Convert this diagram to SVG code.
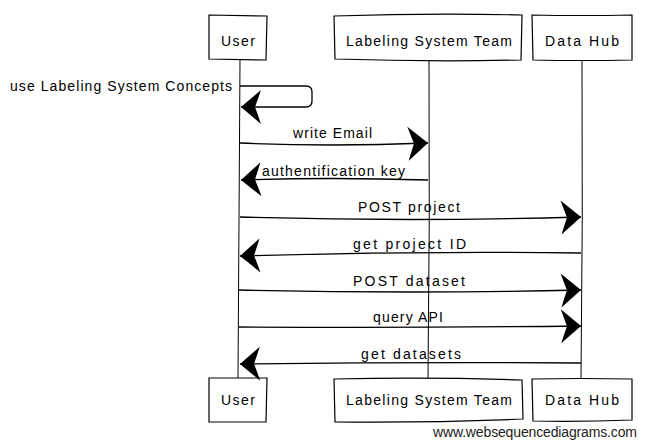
<svg xmlns="http://www.w3.org/2000/svg" width="646" height="447" viewBox="0 0 646 447">
<style>
.box{fill:#fff;stroke:#000;stroke-width:1.2}
.life{fill:none;stroke:#000;stroke-width:1}
.msg{fill:none;stroke:#000;stroke-width:1.3}
.t{font-family:"Liberation Sans",Arial,sans-serif;font-size:14px;fill:#000}
.wm{font-family:"Liberation Sans",Arial,sans-serif;font-size:14px;fill:#222}
</style>
<defs>
<marker id="ah" markerUnits="userSpaceOnUse" viewBox="-24 -22 26 44" refX="0" refY="0" markerWidth="26" markerHeight="44" orient="auto" overflow="visible">
<path d="M0,0 L-20,-17 Q-17,-8 -14,0 Q-17,8 -20,17 Z" fill="#000"/>
</marker>
</defs>
<rect width="646" height="447" fill="#fff"/>
<g id="lifelines">
<path class="life" d="M240,60 Q239,220 238,378"/>
<path class="life" d="M429,60 Q430,220 428,378"/>
<path class="life" d="M582,60 Q583,220 581,378"/>
</g>
<g id="node-user-top">
<path class="box" d="M209,15 L267,16 L266,60 L209,59 Z"/>
<text class="t" x="238" y="46" text-anchor="middle" textLength="34">User</text>
</g>
<g id="node-lst-top">
<path class="box" d="M334,16 Q430,13 522,15 L521,60 Q430,62 335,59 Z"/>
<text class="t" x="429" y="46" text-anchor="middle" textLength="166">Labeling System Team</text>
</g>
<g id="node-dh-top">
<path class="box" d="M532,15 Q580,16 632,15 L632,60 Q580,61 533,60 Z"/>
<text class="t" x="582" y="46" text-anchor="middle" textLength="74">Data Hub</text>
</g>
<g id="node-user-bottom">
<path class="box" d="M209,378 L267,378 L266,422 L209,422 Z"/>
<text class="t" x="238" y="405" text-anchor="middle" textLength="34">User</text>
</g>
<g id="node-lst-bottom">
<path class="box" d="M334,379 Q430,377 522,380 L523,419 Q430,423 335,422 Z"/>
<text class="t" x="429" y="405" text-anchor="middle" textLength="166">Labeling System Team</text>
</g>
<g id="node-dh-bottom">
<path class="box" d="M532,379 Q580,378 632,379 L632,420 Q580,422 533,421 Z"/>
<text class="t" x="582" y="405" text-anchor="middle" textLength="74">Data Hub</text>
</g>
<g id="connectors">
<path class="msg" d="M240,86 L306,86 Q312,86 312,92 L312,101 Q312,107 306,107 L241,107" marker-end="url(#ah)"/>
<path class="msg" d="M240,143 Q330,147 428,143" marker-end="url(#ah)"/>
<path class="msg" d="M428,180 Q330,177 241,180" marker-end="url(#ah)"/>
<path class="msg" d="M240,217 Q410,222 581,217" marker-end="url(#ah)"/>
<path class="msg" d="M581,253 Q410,251 240,256" marker-end="url(#ah)"/>
<path class="msg" d="M239,290 Q410,294 581,290" marker-end="url(#ah)"/>
<path class="msg" d="M239,327 Q410,328 581,326" marker-end="url(#ah)"/>
<path class="msg" d="M581,363 Q410,362 240,364" marker-end="url(#ah)"/>
</g>
<g id="labels">
<text class="t" x="10" y="91" textLength="222">use Labeling System Concepts</text>
<text class="t" x="293" y="138" textLength="79">write Email</text>
<text class="t" x="262" y="176" textLength="143">authentification key</text>
<text class="t" x="358" y="212" textLength="102">POST project</text>
<text class="t" x="353" y="249" textLength="113">get project ID</text>
<text class="t" x="353" y="286" textLength="112">POST dataset</text>
<text class="t" x="373" y="322" textLength="70">query API</text>
<text class="t" x="361" y="359" textLength="100">get datasets</text>
</g>
<text class="wm" x="637" y="437" text-anchor="end" textLength="204">www.websequencediagrams.com</text>
</svg>
